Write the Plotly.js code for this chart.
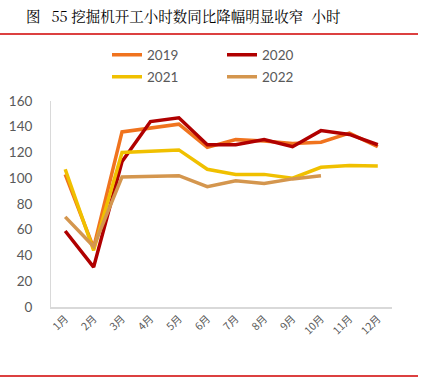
<!DOCTYPE html>
<html>
<head>
<meta charset="utf-8">
<script src="https://cdn.plot.ly/plotly-3.0.1.min.js"></script>
<style>
html,body{margin:0;padding:0;background:#fff;}
#chart{width:425px;height:380px;}
</style>
</head>
<body>
<div id="chart"></div>
<script>
var months = ['1月','2月','3月','4月','5月','6月','7月','8月','9月','10月','11月','12月'];
var s2019 = [103, 46, 136, 139, 142, 124, 130, 129, 127, 128, 135, 124.5];
var s2020 = [59, 31, 113, 144, 147, 126, 126, 130, 124.5, 137, 134, 126];
var s2021 = [107, 44, 120, 121, 122, 107, 103, 103, 100, 108.5, 110, 109.5];
var s2022 = [70, 47, 101, 101.5, 102, 93.5, 98, 96, 99.5, 102];
var yTicks = [0, 20, 40, 60, 80, 100, 120, 140, 160];

var titleText = '图\u2002 55 挖掘机开工小时数同比降幅明显收窄\u2002\u200a小时';

function tr(name, y, color, legend) {
  return {
    type: 'scatter', mode: 'lines', name: name,
    x: months.slice(0, y.length), y: y,
    line: {color: color, width: 3.5},
    legend: legend
  };
}

var data = [
  tr('2019', s2019, '#F0731E', 'legend'),
  tr('2020', s2020, '#B00000', 'legend'),
  tr('2021', s2021, '#F0C000', 'legend2'),
  tr('2022', s2022, '#D4964E', 'legend2')
];

var legendCommon = {
  orientation: 'h', xref: 'container', yref: 'container', xanchor: 'left', yanchor: 'middle',
  font: {family: 'Lato, "Liberation Sans", Arial, sans-serif', size: 13.5, color: '#595959'},
  bgcolor: 'rgba(0,0,0,0)', entrywidth: 70, entrywidthmode: 'pixels',
  itemwidth: 30, tracegroupgap: 0
};

var layout = {
  width: 425, height: 380,
  margin: {l: 51, r: 33, t: 101, b: 73},
  paper_bgcolor: '#ffffff', plot_bgcolor: '#ffffff',
  showlegend: true,
  legend: Object.assign({}, legendCommon, {x: 107/425, y: 1 - 55/380}),
  legend2: Object.assign({}, legendCommon, {x: 107/425, y: 1 - 77/380}),
  xaxis: {
    type: 'category', tickmode: 'array', tickvals: months, ticktext: months,
    tickangle: -45, showgrid: false, zeroline: false,
    showline: true, linecolor: '#d9d9d9', linewidth: 1.5,
    ticks: '', tickfont: {family: '"Noto Sans CJK SC", sans-serif', size: 10.5, color: '#595959'},
    range: [-0.5, 11.5], fixedrange: true
  },
  yaxis: {
    range: [0, 160], tickmode: 'array', tickvals: yTicks,
    showgrid: false, zeroline: false, showline: true, linecolor: '#d9d9d9', linewidth: 1,
    ticks: '', tickfont: {family: 'Lato, "Liberation Sans", Arial, sans-serif', size: 13.5, color: '#595959'},
    ticklabelstandoff: 15, fixedrange: true
  },
  annotations: [{
    text: titleText, xref: 'paper', yref: 'paper', x: (24 - 51) / 341, y: 1 + (101 - 16) / 206,
    xanchor: 'left', yanchor: 'middle', showarrow: false, align: 'left',
    font: {family: '"Noto Serif CJK SC", "Noto Sans CJK SC", serif', size: 14.5, color: '#000000'}
  }],
  shapes: [
    {type: 'line', xref: 'paper', yref: 'paper', x0: -51/341, x1: 367/341, y0: 1 + (101-34)/206, y1: 1 + (101-34)/206,
     line: {color: '#D00000', width: 1.5}},
    {type: 'line', xref: 'paper', yref: 'paper', x0: -51/341, x1: 367/341, y0: -(376-307)/206, y1: -(376-307)/206,
     line: {color: '#D00000', width: 1.5}}
  ]
};

Plotly.newPlot('chart', data, layout, {displayModeBar: false, staticPlot: true});
</script>
</body>
</html>
